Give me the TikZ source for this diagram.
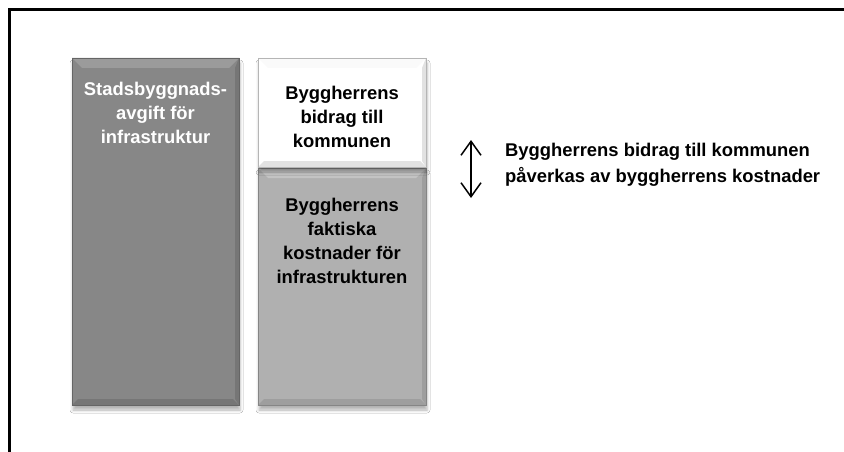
\documentclass[tikz,border=0pt]{standalone}
\usepackage{fontspec}
\setmainfont{Liberation Sans}
\usetikzlibrary{arrows.meta,shadows.blur}

\definecolor{avgFace}{HTML}{878787}
\definecolor{avgTop}{HTML}{9B9B9B}
\definecolor{avgLow}{HTML}{767676}
\definecolor{avgLine}{HTML}{656565}
\definecolor{kosFace}{HTML}{B0B0B0}
\definecolor{kosTop}{HTML}{C3C3C3}
\definecolor{kosLow}{HTML}{9E9E9E}
\definecolor{kosLine}{HTML}{858585}
\definecolor{bidTop}{HTML}{FAFAFA}
\definecolor{bidLow}{HTML}{E2E2E2}
\definecolor{bidLine}{HTML}{B5B5B5}

\tikzset{
  % raised box: #1 face, #2 top bevel, #3 lower/right bevel, #4 outline
  bevelbox/.style n args={4}{
    rectangle, inner sep=0pt, fill=#1, draw=#4, line width=0.8pt,
    blur shadow={shadow xshift=1pt, shadow yshift=-5pt,
                 shadow blur radius=3pt, shadow opacity=30},
    path picture={
      \fill[#2] (path picture bounding box.north west)
        -- (path picture bounding box.north east)
        -- ([shift={(-10pt,-10pt)}]path picture bounding box.north east)
        -- ([shift={(10pt,-10pt)}]path picture bounding box.north west) -- cycle;
      \fill[#3] (path picture bounding box.south west)
        -- (path picture bounding box.south east)
        -- ([shift={(-6pt,6pt)}]path picture bounding box.south east)
        -- ([shift={(6pt,6pt)}]path picture bounding box.south west) -- cycle;
      \fill[#3] (path picture bounding box.north east)
        -- (path picture bounding box.south east)
        -- ([shift={(-4pt,6pt)}]path picture bounding box.south east)
        -- ([shift={(-4pt,-10pt)}]path picture bounding box.north east) -- cycle;
    }},
  boxtext/.style={anchor=north, align=center, inner sep=0pt,
    font=\fontsize{18.4}{24}\selectfont\bfseries},
  notetext/.style={anchor=north west, align=left, inner sep=0pt,
    font=\fontsize{18.4}{26}\selectfont\bfseries},
  twoway/.style={{Straight Barb[length=14pt,width=20pt]}-{Straight Barb[length=14pt,width=20pt]},
    line width=1.5pt}
}

\begin{document}
\begin{tikzpicture}[x=1pt,y=-1pt]
  \useasboundingbox (0,0) rectangle (844,452);
  \fill[white] (0,0) rectangle (844,452);
  \clip (0,0) rectangle (844,452);

  % outer frame, open to the right and bottom
  \draw[line width=3pt] (9.5,9.5) rectangle (870,480);

  % left column
  \node[bevelbox={avgFace}{avgTop}{avgLow}{avgLine},
        minimum width=167pt, minimum height=347pt] (avgift) at (155.5,231.5) {};

  % right column, lower part
  \node[bevelbox={kosFace}{kosTop}{kosLow}{kosLine},
        minimum width=168pt, minimum height=237pt] (kostnad) at (342,286.5) {};

  % right column, upper part
  \node[bevelbox={white}{bidTop}{bidLow}{bidLine},
        minimum width=168pt, minimum height=109pt] (bidrag) at (342,112.5) {};

  \node[boxtext, text=white] (avgiftTxt) at (155.5,81.5)
    {Stadsbyggnads-\\avgift för\\infrastruktur};
  \node[boxtext] (bidragTxt) at (342,85.7)
    {Byggherrens\\bidrag till\\kommunen};
  \node[boxtext] (kostnadTxt) at (342,197.7)
    {Byggherrens\\faktiska\\kostnader för\\infrastrukturen};

  % double arrow with explanation
  \coordinate (pilUpp) at (471,140);
  \coordinate (pilNed) at (471,198);
  \draw[twoway] (pilUpp) -- (pilNed);
  \node[notetext] (not) at (505,142.7)
    {Byggherrens bidrag till kommunen\\påverkas av byggherrens kostnader};
\end{tikzpicture}
\end{document}
